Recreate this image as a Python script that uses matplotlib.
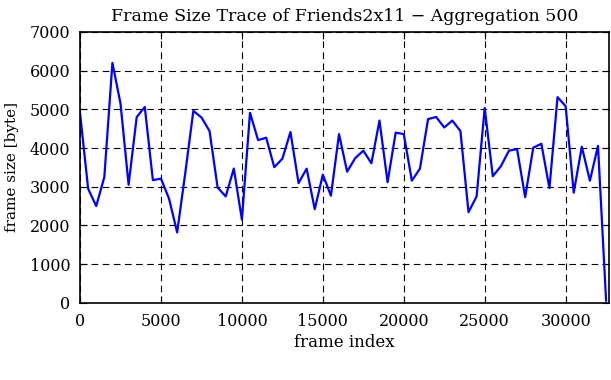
import numpy as np
import matplotlib
matplotlib.use('Agg')
import matplotlib.pyplot as plt

# aggregated frame sizes, one value per 500 frames
frame_index = np.arange(0, 33000, 500)
frame_size = [
    4900, 2950, 2500, 3250, 6200, 5150, 3050, 4800, 5060, 3170,
    3210, 2690, 1820, 3350, 4960, 4790, 4440, 2980, 2750, 3470,
    2150, 4910, 4205, 4267, 3506, 3723, 4414, 3094, 3467, 2419,
    3312, 2769, 4360, 3390, 3739, 3933, 3607, 4710, 3118, 4398,
    4360, 3157, 3467, 4748, 4803, 4531, 4710, 4438, 2342, 2750,
    5035, 3273, 3530, 3933, 3972, 2730, 4010, 4110, 2963, 5315,
    5082, 2847, 4033, 3156, 4057, 60,
]
x_ticks = [0, 5000, 10000, 15000, 20000, 25000, 30000]
y_ticks = [0, 1000, 2000, 3000, 4000, 5000, 6000, 7000]

plt.rcParams['font.family'] = ['DejaVu Serif']

fig = plt.figure(figsize=(6.11, 3.80), dpi=100)
ax = fig.add_axes([0.131, 0.203, 0.866, 0.713])

ax.plot(frame_index, frame_size, color='#0000ff', linewidth=1.6)

ax.set_xlim(0, 32690)
ax.set_ylim(0, 7000)
ax.set_xticks(x_ticks)
ax.set_yticks(y_ticks)
ax.grid(True, color='black', linestyle=(0, (6, 4)), linewidth=0.8)
ax.tick_params(direction='in', top=True, right=True, labelsize=11.5, length=5, pad=7)
for s in ax.spines.values():
    s.set_linewidth(1.2)

ax.set_xlabel('frame index', fontsize=12, labelpad=3)
ax.set_ylabel('frame size [byte]', fontsize=11, labelpad=8)
ax.set_title('Frame Size Trace of Friends2x11 \u2212 Aggregation 500', fontsize=12.5, pad=8)

fig.savefig('out.png', dpi=100)
